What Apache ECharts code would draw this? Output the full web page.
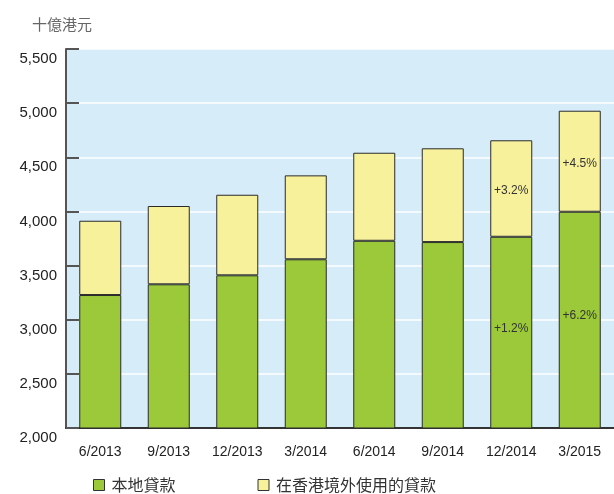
<!DOCTYPE html>
<html>
<head>
<meta charset="utf-8">
<script src="https://cdn.jsdelivr.net/npm/echarts@6/dist/echarts.min.js"></script>
<style>
  html, body { margin: 0; padding: 0; background: #fff; }
  #chart { width: 614px; height: 494px; }
</style>
</head>
<body>
<div id="chart"></div>
<script>
const categories = ["6/2013", "9/2013", "12/2013", "3/2014", "6/2014", "9/2014", "12/2014", "3/2015"];
// billions HKD
const localLoans = [3228, 3327, 3410, 3558, 3729, 3717, 3766, 3997];
const outsideLoans = [686, 723, 744, 775, 813, 866, 891, 933];
const localLabels = ["", "", "", "", "", "", "+1.2%", "+6.2%"];
const outsideLabels = ["", "", "", "", "", "", "+3.2%", "+4.5%"];
const seriesNames = ["本地貸款", "在香港境外使用的貸款"];

const FONT = "'Liberation Sans', 'Noto Sans CJK TC', sans-serif";
const CJK = "'Noto Sans CJK TC', sans-serif";

const chart = echarts.init(document.getElementById("chart"), null, { renderer: "canvas" });

const toData = (vals, labels) =>
  vals.map((v, i) => ({
    value: v,
    label: { show: labels[i] !== "", formatter: labels[i] },
  }));

chart.setOption({
  backgroundColor: "#ffffff",
  animation: false,
  textStyle: { fontFamily: FONT },
  title: {
    text: "十億港元",
    left: 27,
    top: 12,
    textStyle: { fontSize: 15, fontWeight: "normal", color: "#666", fontFamily: CJK },
  },
  grid: {
    left: 66, right: -4, top: 49, bottom: 66,
    show: true, backgroundColor: "#d6ecf9", borderWidth: 0,
  },
  legend: {
    data: seriesNames,
    left: 88,
    top: 472,
    icon: "rect",
    itemWidth: 11,
    itemHeight: 11,
    itemGap: 82,
    itemStyle: { borderColor: "#333", borderWidth: 1 },
    textStyle: { fontSize: 16, color: "#333", fontFamily: CJK, padding: [0, 0, 0, 2] },
  },
  xAxis: {
    type: "category",
    data: categories,
    axisLine: { lineStyle: { color: "#333", width: 2 } },
    axisTick: { show: false },
    axisLabel: { color: "#222", fontSize: 14, margin: 17 },
  },
  yAxis: {
    type: "value",
    min: 2000,
    max: 5500,
    interval: 500,
    axisLine: { show: true, lineStyle: { color: "#555", width: 2 } },
    axisTick: { show: true, inside: true, length: 13, lineStyle: { color: "#555", width: 2 } },
    axisLabel: {
      color: "#222", fontSize: 15, margin: 9,
      verticalAlign: "top", lineHeight: 20,
      formatter: (v) => v.toLocaleString("en-US"),
    },
    splitLine: { lineStyle: { color: "#ffffff", width: 1.5 } },
  },
  series: [
    {
      name: seriesNames[0],
      type: "bar",
      stack: "loans",
      barWidth: 42,
      data: toData(localLoans, localLabels),
      itemStyle: { color: "#9bc93a", borderColor: "#2b2b2b", borderWidth: 1 },
      label: { position: "inside", color: "#333", fontSize: 12, offset: [0, -4] },
    },
    {
      name: seriesNames[1],
      type: "bar",
      stack: "loans",
      barWidth: 42,
      data: toData(outsideLoans, outsideLabels),
      itemStyle: { color: "#f8f19c", borderColor: "#2b2b2b", borderWidth: 1 },
      label: { position: "inside", color: "#333", fontSize: 12, offset: [0, 2] },
    },
  ],
});
</script>
</body>
</html>
